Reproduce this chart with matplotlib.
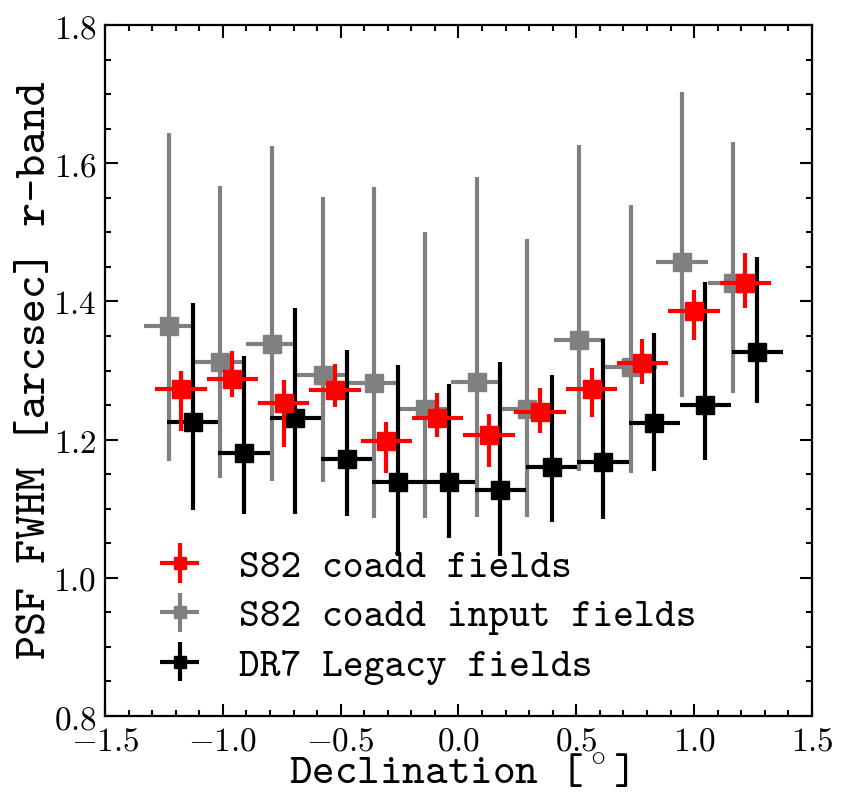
import matplotlib
matplotlib.use("Agg")
import matplotlib.pyplot as plt
from matplotlib.ticker import MultipleLocator, FuncFormatter
import numpy as np

plt.rcParams['mathtext.fontset'] = 'cm'

# ---- data ----
labels = ["S82 coadd fields", "S82 coadd input fields", "DR7 Legacy fields"]

red_x = [-1.178, -0.960, -0.742, -0.524, -0.306, -0.089, 0.129, 0.346, 0.565, 0.781, 0.999, 1.217]
red_y = [1.273, 1.288, 1.253, 1.272, 1.198, 1.232, 1.207, 1.240, 1.273, 1.311, 1.386, 1.427]
red_lo = [1.213, 1.261, 1.189, 1.247, 1.152, 1.204, 1.161, 1.210, 1.233, 1.280, 1.344, 1.391]
red_hi = [1.300, 1.328, 1.287, 1.309, 1.225, 1.267, 1.237, 1.275, 1.304, 1.345, 1.416, 1.470]

gray_x = [-1.227, -1.012, -0.793, -0.576, -0.357, -0.140, 0.077, 0.292, 0.513, 0.732, 0.949, 1.166]
gray_y = [1.365, 1.312, 1.338, 1.293, 1.282, 1.245, 1.284, 1.244, 1.344, 1.305, 1.457, 1.426]
gray_lo = [1.169, 1.144, 1.140, 1.138, 1.087, 1.087, 1.088, 1.088, 1.154, 1.152, 1.262, 1.268]
gray_hi = [1.644, 1.567, 1.625, 1.551, 1.565, 1.500, 1.580, 1.491, 1.626, 1.540, 1.703, 1.630]

black_x = [-1.128, -0.910, -0.692, -0.475, -0.257, -0.039, 0.178, 0.396, 0.614, 0.831, 1.048, 1.268]
black_y = [1.225, 1.180, 1.232, 1.172, 1.138, 1.138, 1.127, 1.161, 1.168, 1.224, 1.250, 1.327]
black_lo = [1.098, 1.092, 1.092, 1.090, 1.032, 1.058, 1.031, 1.081, 1.085, 1.154, 1.171, 1.253]
black_hi = [1.397, 1.321, 1.391, 1.330, 1.308, 1.281, 1.313, 1.293, 1.346, 1.355, 1.428, 1.464]

bin_half = 0.109

fig = plt.figure(figsize=(8.44, 7.94), dpi=100)
ax = fig.add_axes([0.1244, 0.0982, 0.8376, 0.8703])

def eb(x, y, lo, hi, color, label, z):
    y = np.array(y); lo = np.array(lo); hi = np.array(hi)
    return ax.errorbar(x, y, yerr=[y - lo, hi - y], xerr=bin_half, fmt='s',
                       color=color, ms=13, elinewidth=3, capsize=0,
                       label=label, zorder=z)

h_gray = eb(gray_x, gray_y, gray_lo, gray_hi, '#808080', labels[1], 2)
h_black = eb(black_x, black_y, black_lo, black_hi, 'black', labels[2], 3)
h_red = eb(red_x, red_y, red_lo, red_hi, '#ff0000', labels[0], 4)

ax.set_xlim(-1.5, 1.5)
ax.set_ylim(0.8, 1.8)
ax.xaxis.set_major_locator(MultipleLocator(0.5))
ax.xaxis.set_minor_locator(MultipleLocator(0.1))
ax.yaxis.set_major_locator(MultipleLocator(0.2))
ax.yaxis.set_minor_locator(MultipleLocator(0.05))
fmt = FuncFormatter(lambda v, p: f'${v:.1f}$')
ax.xaxis.set_major_formatter(fmt)
ax.yaxis.set_major_formatter(fmt)
ax.tick_params(which='both', direction='in', top=True, right=True, width=1.5)
ax.tick_params(which='major', length=9, labelsize=24, pad=6)
ax.tick_params(which='minor', length=4.5)
for s in ax.spines.values():
    s.set_linewidth(1.6)

ax.set_xlabel(r'Declination [$^\circ$]', fontfamily='cmtt10', fontsize=31, labelpad=-2)
ax.set_ylabel('PSF FWHM [arcsec] r-band', fontfamily='cmtt10', fontsize=33, labelpad=-1)

leg = ax.legend([h_red, h_gray, h_black], labels, loc='lower left',
                bbox_to_anchor=(0.03, -0.006), frameon=False, markerscale=0.7,
                handlelength=0.9, handletextpad=1.05, labelspacing=0.32,
                prop={'family': 'cmtt10', 'size': 28.5})

fig.savefig('out.png', dpi=100)
